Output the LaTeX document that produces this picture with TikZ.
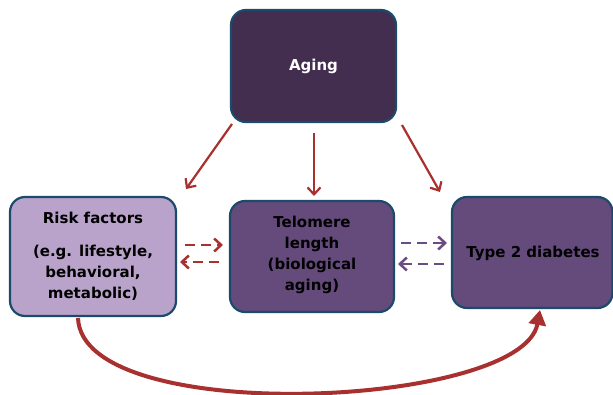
\documentclass[tikz,border=0pt]{standalone}
\usepackage{fontspec}
\setmainfont{DejaVu Sans}
\usetikzlibrary{arrows.meta}
\definecolor{bordc}{HTML}{1B4A6B}
\definecolor{agingc}{HTML}{432E50}
\definecolor{riskc}{HTML}{B9A3CA}
\definecolor{midc}{HTML}{654A7C}
\definecolor{redc}{HTML}{A8302F}
\definecolor{purc}{HTML}{6B4C82}
\tikzset{
  box/.style={draw=bordc, line width=2.2pt, rounded corners=15pt, inner sep=0pt},
  lbl/.style={font=\bfseries\fontsize{15}{21}\selectfont, align=center, text=black},
  solidarr/.style={draw=redc, line width=2.2pt, -{Straight Barb[length=7pt,width=13pt,line width=2.2pt]}},
  dasharr/.style={line width=2.5pt, dash pattern=on 10pt off 6pt, -{Straight Barb[length=7pt,width=13pt,line width=2.5pt]}},
}
\begin{document}
\begin{tikzpicture}[x=1pt,y=-1pt]
\useasboundingbox (0,0) rectangle (613,394);
% boxes
\path[box, fill=agingc] (231,10) rectangle (396,122);
\path[box, fill=riskc] (10,197) rectangle (176,316);
\path[box, fill=midc] (230,201) rectangle (394,312);
\path[box, fill=midc] (452,197) rectangle (612.5,308);
\node[lbl, text=white] (aging) at (313.5,66) {Aging};
\node[lbl] (risk1) at (93,218) {Risk factors};
\node[lbl] (risk2) at (93,273) {(e.g. lifestyle,\\behavioral,\\metabolic)};
\node[lbl] (telo) at (312,255) {Telomere\\length\\(biological\\aging)};
\node[lbl] (t2d) at (533,253) {Type 2 diabetes};
% coordinates
\coordinate (a1) at (232,124); \coordinate (b1) at (186,189);
\coordinate (a2) at (314,133); \coordinate (b2) at (314,196);
\coordinate (a3) at (402,125); \coordinate (b3) at (440,192);
\draw[solidarr] (a1) -- (b1);
\draw[solidarr] (a2) -- (b2);
\draw[solidarr] (a3) -- (b3);
% dashed
\coordinate (d1s) at (185,245); \coordinate (d1e) at (223,245);
\coordinate (d2s) at (219,262); \coordinate (d2e) at (180,262);
\coordinate (d3s) at (401,243); \coordinate (d3e) at (447,243);
\coordinate (d4s) at (444,264); \coordinate (d4e) at (398,264);
\draw[dasharr, draw=redc] (d1s) -- (d1e);
\draw[dasharr, draw=redc] (d2s) -- (d2e);
\draw[dasharr, draw=purc] (d3s) -- (d3e);
\draw[dasharr, draw=purc] (d4s) -- (d4e);
% curve
\coordinate (cs) at (78,318); \coordinate (ce) at (540,310);
\draw[draw=redc, line width=4pt, -{Triangle[length=15pt,width=17pt]}] (cs) .. controls (82,428) and (522,408) .. (ce);
\end{tikzpicture}
\end{document}
